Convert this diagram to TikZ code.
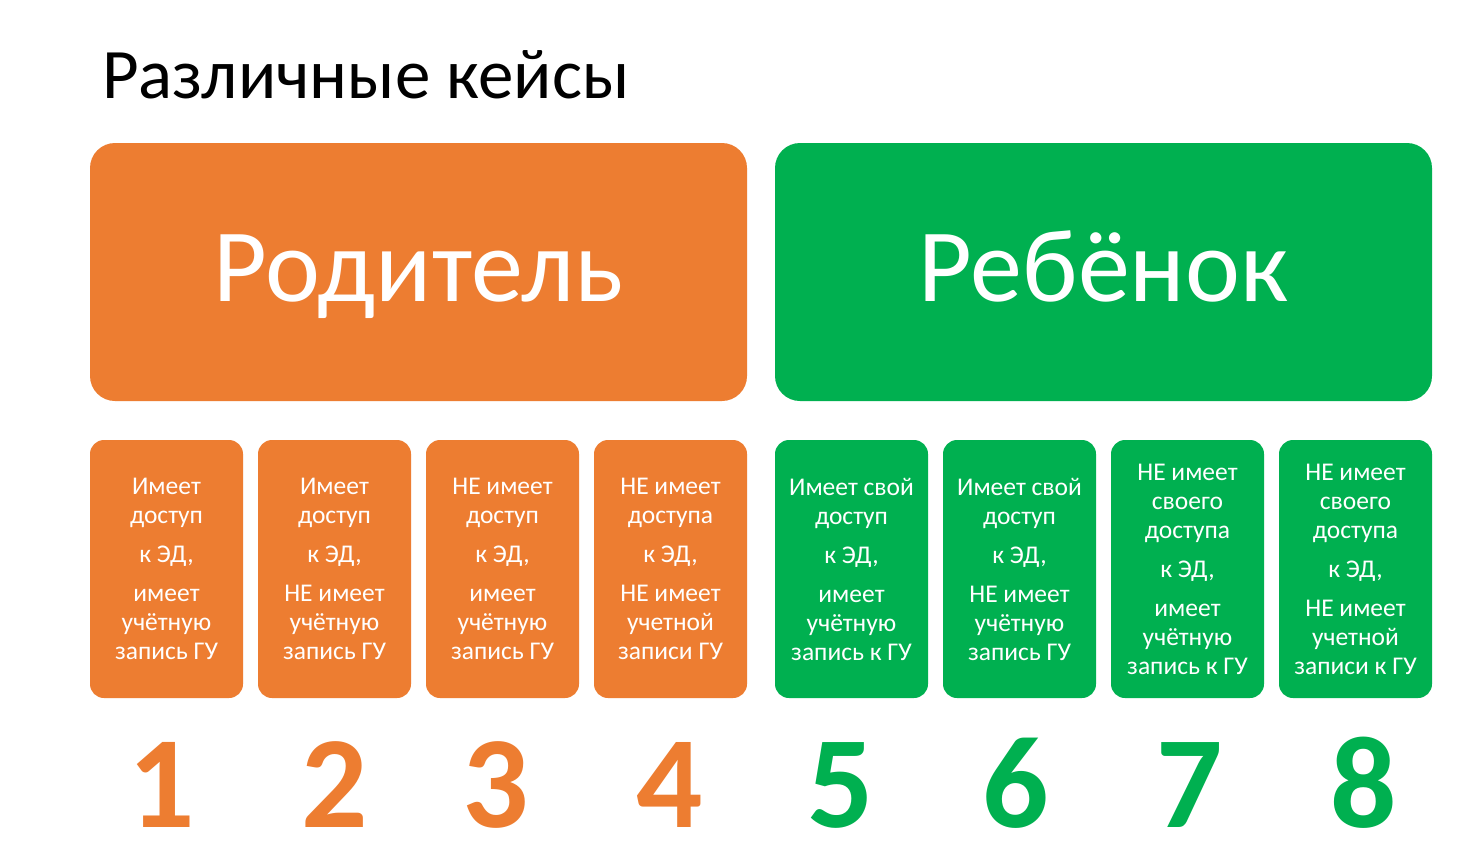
\documentclass[tikz,border=0pt]{standalone}
\usepackage{fontspec}
\setmainfont{Carlito}
\definecolor{orng}{HTML}{ED7D31}
\definecolor{grn}{HTML}{00B050}
\begin{document}
\begin{tikzpicture}[x=1pt,y=-1pt,
  bigbox/.style={rounded corners=25pt, minimum width=657pt, minimum height=258pt, inner sep=0pt,
    text=white, font=\fontsize{104}{120}\selectfont, text height=58pt, text depth=0pt},
  smallbox/.style={rounded corners=14pt, minimum width=153pt, minimum height=258pt, inner sep=0pt,
    text=white, align=center, font=\fontsize{25.5}{29}\selectfont},
  digit/.style={anchor=base, font=\fontsize{131}{140}\selectfont\bfseries, inner sep=0pt}]
\useasboundingbox (0,0) rectangle (1460,863);
\fill[white] (0,0) rectangle (1460,863);
\node[anchor=base west, inner sep=0pt, font=\fontsize{71}{80}\selectfont] (title) at (102,98) {Различные кейсы};
\node[bigbox, fill=orng] (parent) at (418.5,272) {Родитель};
\node[bigbox, fill=grn] (child) at (1103.5,272) {Ребёнок};
\node[smallbox, fill=orng] (b1) at (166.5,569) {Имеет\\доступ\\[10pt]к ЭД,\\[10pt]имеет\\учётную\\запись ГУ};
\node[smallbox, fill=orng] (b2) at (334.5,569) {Имеет\\доступ\\[10pt]к ЭД,\\[10pt]НЕ имеет\\учётную\\запись ГУ};
\node[smallbox, fill=orng] (b3) at (502.5,569) {НЕ имеет\\доступ\\[10pt]к ЭД,\\[10pt]имеет\\учётную\\запись ГУ};
\node[smallbox, fill=orng] (b4) at (670.5,569) {НЕ имеет\\доступа\\[10pt]к ЭД,\\[10pt]НЕ имеет\\учетной\\записи ГУ};
\node[smallbox, fill=grn] (b5) at (851.5,569) {Имеет свой\\доступ\\[10pt]к ЭД,\\[10pt]имеет\\учётную\\запись к ГУ};
\node[smallbox, fill=grn] (b6) at (1019.5,569) {Имеет свой\\доступ\\[10pt]к ЭД,\\[10pt]НЕ имеет\\учётную\\запись ГУ};
\node[smallbox, fill=grn] (b7) at (1187.5,569) {НЕ имеет\\своего\\доступа\\[10pt]к ЭД,\\[10pt]имеет\\учётную\\запись к ГУ};
\node[smallbox, fill=grn] (b8) at (1355.5,569) {НЕ имеет\\своего\\доступа\\[10pt]к ЭД,\\[10pt]НЕ имеет\\учетной\\записи к ГУ};
\node[digit, text=orng] (n1) at (162,827) {1};
\node[digit, text=orng] (n2) at (334.5,827) {2};
\node[digit, text=orng] (n3) at (495.5,827) {3};
\node[digit, text=orng] (n4) at (669.5,827) {4};
\node[digit, text=grn] (n5) at (841,827) {5};
\node[digit, text=grn] (n6) at (1015.5,827) {6};
\node[digit, text=grn] (n7) at (1190,827) {7};
\node[digit, text=grn] (n8) at (1363.5,827) {8};
\end{tikzpicture}
\end{document}
